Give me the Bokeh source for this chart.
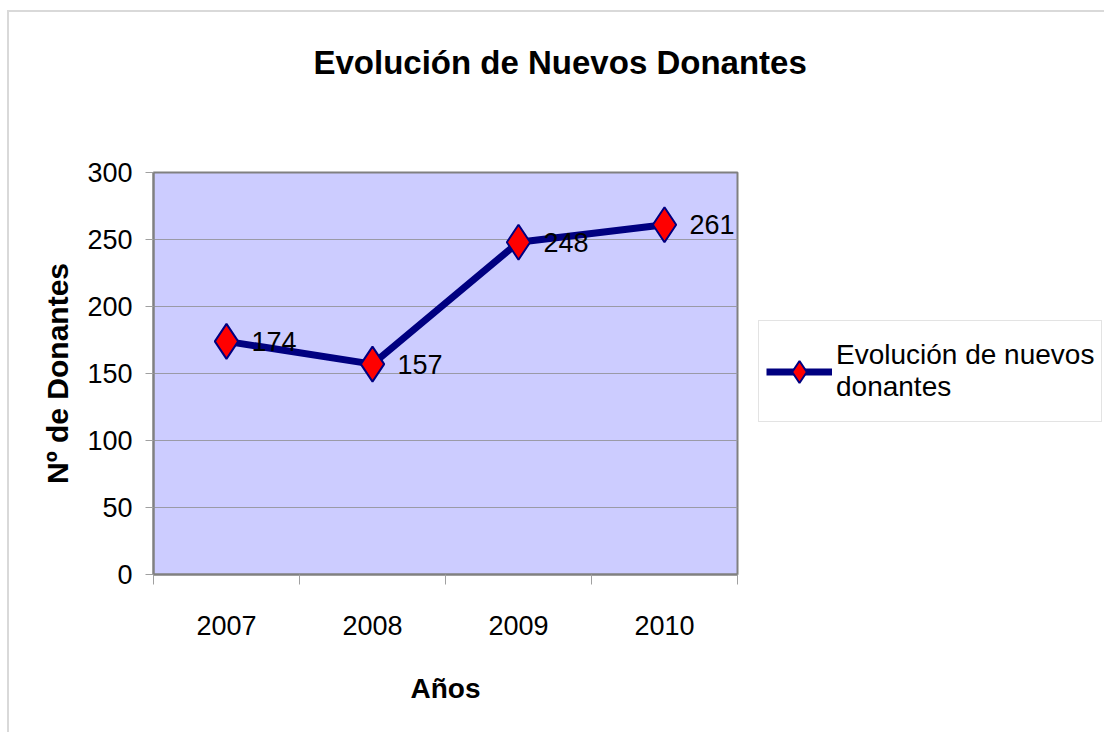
from bokeh.plotting import figure
from bokeh.models import (Range1d, FixedTicker, ColumnDataSource, LabelSet,
                          Legend, LegendItem, Title)
from bokeh.core.properties import value
from bokeh.embed import file_html
from bokeh.resources import INLINE

# ---- data ----
years = ["2007", "2008", "2009", "2010"]
donantes = [174, 157, 248, 261]
y_ticks = [0, 50, 100, 150, 200, 250, 300]
title_text = "Evolución de Nuevos Donantes"
x_title = "Años"
y_title = "Nº de Donantes"
series_name = "Evolución de nuevos\ndonantes"

FONT = "Liberation Sans"

xs = [i + 0.5 for i in range(len(years))]
src = ColumnDataSource(dict(x=xs, y=donantes, lbl=[str(v) for v in donantes]))

p = figure(frame_width=584, frame_height=402, output_backend="svg", toolbar_location=None,
           x_range=Range1d(0, len(years)), y_range=Range1d(0, 300),
           min_border_left=144, min_border_right=0,
           min_border_top=160, min_border_bottom=158)
p.styles = {"margin-left": "7px", "margin-top": "10px",
            "border-left": "2px solid #d9d9d9", "border-top": "2px solid #d9d9d9"}
p.background_fill_color = "#CCCCFF"
p.border_fill_color = "white"
p.outline_line_color = "#808080"
p.outline_line_width = 2

p.title.text = title_text
p.title.align = "left"
p.title.offset = 160
p.title.standoff = 0
p.title.text_font = FONT
p.title.text_font_size = "33px"
p.title.text_font_style = "bold"
p.title.text_color = "black"

# invisible spacer between title and plot area
spacer = Title(text=" ", text_font_size="12px", standoff=76)
p.add_layout(spacer, "above")

p.xgrid.visible = False
p.ygrid.grid_line_color = "#9a9aa6"
p.ygrid.grid_line_width = 1

# x axis
p.xaxis.ticker = FixedTicker(ticks=xs, minor_ticks=list(range(len(years) + 1)))
p.xaxis.major_label_overrides = {x: y for x, y in zip(xs, years)}
p.xaxis.major_tick_out = 0
p.xaxis.major_tick_in = 0
p.xaxis.minor_tick_out = 10
p.xaxis.minor_tick_in = 0
p.xaxis.minor_tick_line_color = "#a0a0a0"
p.xaxis.major_label_standoff = 31
p.xaxis.axis_label = x_title
p.xaxis.axis_label_standoff = 35

# y axis
p.yaxis.ticker = FixedTicker(ticks=y_ticks)
p.yaxis.major_tick_out = 8
p.yaxis.major_tick_in = 0
p.yaxis.minor_tick_out = 0
p.yaxis.minor_tick_in = 0
p.yaxis.major_tick_line_color = "#a0a0a0"
p.yaxis.major_label_standoff = 13
p.yaxis.axis_label = y_title
p.yaxis.axis_label_standoff = 10

for ax in (p.xaxis[0], p.yaxis[0]):
    ax.axis_line_color = "#808080"
    ax.axis_line_width = 2
    ax.major_label_text_font = FONT
    ax.major_label_text_font_size = "27px"
    ax.major_label_text_color = "black"
    ax.axis_label_text_font = FONT
    ax.axis_label_text_font_style = "bold"
    ax.axis_label_text_color = "black"
p.xaxis.axis_label_text_font_size = "28px"
p.yaxis.axis_label_text_font_size = "30px"

r_line = p.line("x", "y", source=src, line_color="#000080", line_width=7)
r_pts = p.scatter("x", "y", source=src, marker="diamond", size=35,
                  fill_color="#FF0000", line_color="#000080", line_width=2)

labels = LabelSet(x="x", y="y", text="lbl", source=src, x_offset=25, y_offset=0,
                  text_baseline="middle", text_align="left",
                  text_font=value(FONT), text_font_size=value("27px"),
                  text_color="black")
p.add_layout(labels)

legend = Legend(items=[LegendItem(label=series_name, renderers=[r_line, r_pts])],
                location=(21, 152))
legend.border_line_color = "#c8c8c8"
legend.border_line_width = 1
legend.background_fill_color = "white"
legend.background_fill_alpha = 1.0
legend.label_text_font = FONT
legend.label_text_font_size = "28px"
legend.label_text_color = "black"
legend.label_height = 86
legend.glyph_width = 66
legend.glyph_height = 55
legend.label_standoff = 4
legend.padding = 7
legend.margin = 0
p.add_layout(legend, "right")

open("out.html", "w").write(file_html(p, INLINE))
